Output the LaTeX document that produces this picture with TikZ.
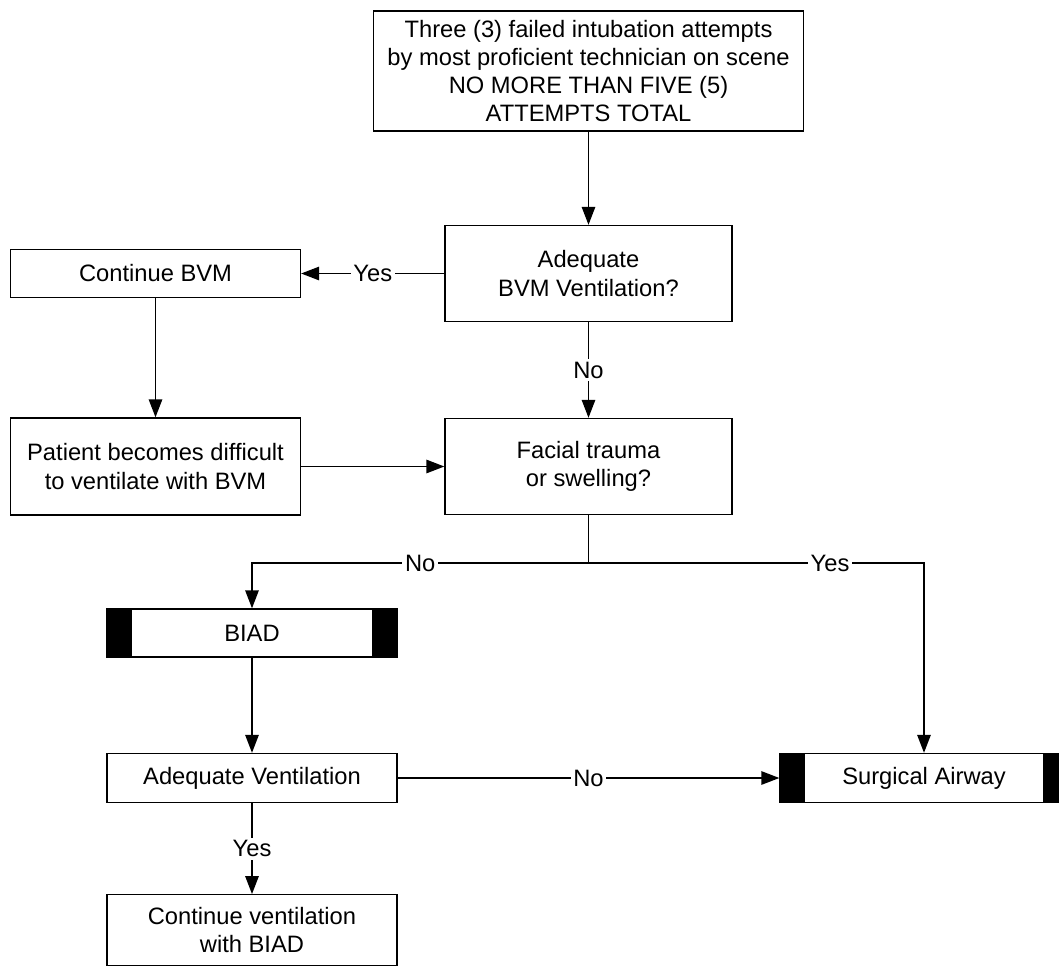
\documentclass[tikz,border=0pt]{standalone}
\usepackage{fontspec}
\setmainfont{Liberation Sans}
\usetikzlibrary{arrows.meta}
\tikzset{
  box/.style={draw, line width=0.8pt, align=center, minimum width=5.8cm, font=\fontsize{13.5}{16}\selectfont},
  barbox/.style={box, path picture={
      \fill (path picture bounding box.north west) rectangle ([xshift=0.5cm]path picture bounding box.south west);
      \fill (path picture bounding box.north east) rectangle ([xshift=-0.5cm]path picture bounding box.south east);}},
  pfeil/.style={-{Triangle[length=0.36cm,width=0.27cm]}, line width=0.8pt},
  linie/.style={line width=0.8pt},
  lab/.style={fill=white, inner sep=1.5pt, font=\fontsize{13.5}{16}\selectfont}
}
\begin{document}
\begin{tikzpicture}[x=0.02cm, y=-0.02cm]
            \useasboundingbox (0,0) rectangle (1059,967);
            % Kaesten rechts
            \node[box, minimum width=8.6cm, minimum height=2.4cm] (versuche) at (588.5,71) {Three (3) failed intubation attempts\\by most proficient technician on scene\\NO MORE THAN FIVE (5)\\ATTEMPTS TOTAL};
            \node[box, minimum width=5.74cm, minimum height=1.92cm] (bvm) at (588.5,273.5) {Adequate\\BVM Ventilation?};
            \node[box, minimum width=5.74cm, minimum height=1.92cm] (trauma) at (588.5,466.5) {Facial trauma\\or swelling?};
            % Kaesten links
            \node[box, minimum height=0.96cm] (weiterbvm) at (155.5,273.5) {Continue BVM};
            \node[box, minimum height=1.94cm] (patient) at (155.5,466.5) {Patient becomes difficult\\to ventilate with BVM};
            \node[barbox, minimum height=0.96cm] (biad) at (252,633) {BIAD};
            \node[box, minimum height=0.98cm] (vent) at (252,778) {Adequate Ventilation};
            \node[box, minimum height=1.41cm, inner ysep=2pt] (weitervent) at (252,930) {Continue ventilation\\with BIAD};
            \node[barbox, minimum width=5.76cm, minimum height=0.98cm] (chirurg) at (924,778) {Surgical Airway};
            % Pfeile
            \draw[pfeil] (versuche) -- (bvm);
            \draw[pfeil] (bvm) -- node[lab] {Yes} (weiterbvm);
            \draw[pfeil] (bvm) -- node[lab] {No} (trauma);
            \draw[pfeil] (weiterbvm) -- (patient);
            \draw[pfeil] (patient) -- (trauma);
                % Verzweigung
            \coordinate (gabel) at (588.5,563);
            \draw[linie] (trauma) -- (gabel);
            \draw[pfeil] (gabel) -| node[lab, pos=0.25] {No} (biad);
            \draw[pfeil] (gabel) -| node[lab, pos=0.36] {Yes} (chirurg);
            \draw[pfeil] (biad) -- (vent);
            \draw[pfeil] (vent) -- node[lab] {No} (chirurg);
            \draw[pfeil] (vent) -- node[lab] {Yes} (weitervent);
\end{tikzpicture}
\end{document}
